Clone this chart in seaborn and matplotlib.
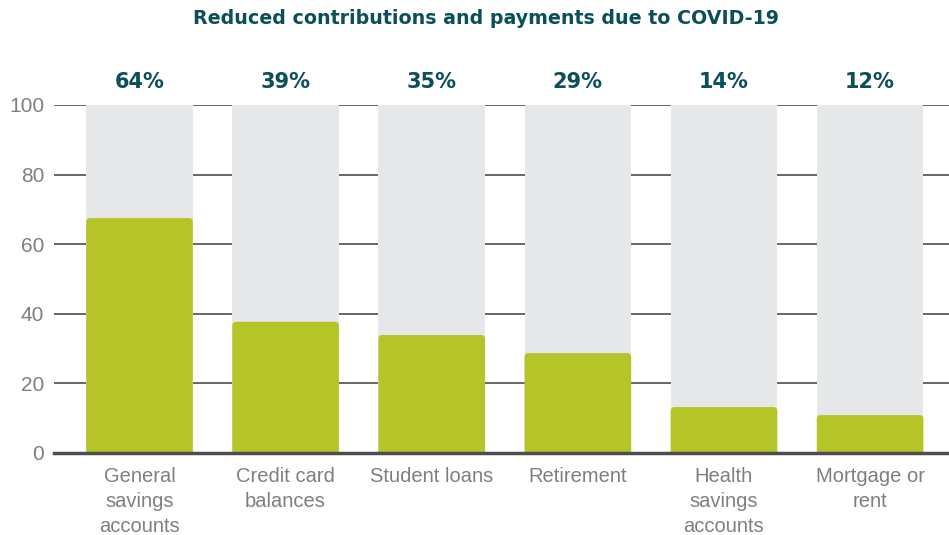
import matplotlib
matplotlib.use("Agg")
import matplotlib.pyplot as plt
from matplotlib.patches import FancyBboxPatch
import seaborn as sns
import pandas as pd

categories = ["General\nsavings\naccounts", "Credit card\nbalances", "Student loans",
              "Retirement", "Health\nsavings\naccounts", "Mortgage or\nrent"]
bar_values = [67.5, 37.7, 33.9, 28.7, 13.2, 10.9]
label_values = ["64%", "39%", "35%", "29%", "14%", "12%"]
background_values = [100, 100, 100, 100, 100, 100]
yticks = [0, 20, 40, 60, 80, 100]

GREEN = "#b5c527"
GREY = "#e6e7e8"
TEAL = "#0b4f59"
TICK = "#7d7f82"
GRID = "#4d4d4f"

sns.set_style("white")
plt.rcParams["font.family"] = ["Liberation Sans", "DejaVu Sans"]

df = pd.DataFrame({"cat": categories, "val": bar_values, "bg": background_values})

fig = plt.figure(figsize=(9.49, 5.35), dpi=100)
ax = fig.add_axes([54 / 949, 1 - 453 / 535, 1 - 54 / 949, (453 - 105) / 535])

sns.barplot(data=df, x="cat", y="bg", color=GREY, width=0.73, ax=ax,
            linewidth=0, saturation=1)
sns.barplot(data=df, x="cat", y="val", color=GREEN, width=0.73, ax=ax,
            linewidth=0, saturation=1)

ax.set_ylim(0, 100)
ax.set_xlim(-0.585, 5.54)

# rounded tops for the green bars, built from seaborn's own bar geometry
ax_w_px = ax.get_position().width * fig.get_figwidth() * fig.dpi
ax_h_px = ax.get_position().height * fig.get_figheight() * fig.dpi
px_x = (ax.get_xlim()[1] - ax.get_xlim()[0]) / ax_w_px
px_y = (ax.get_ylim()[1] - ax.get_ylim()[0]) / ax_h_px
radius_px = 4.0
r_x = radius_px * px_x
r_y = radius_px * px_y
for cont_i, cont in enumerate(ax.containers):
    for p in cont:
        p.set_zorder(5 + cont_i)
        if cont_i == 1:
            p.set_visible(False)
            fb = FancyBboxPatch((p.get_x(), -r_y), p.get_width(), p.get_height() + r_y,
                                boxstyle=f"round,pad=0,rounding_size={r_x}",
                                mutation_aspect=r_y / r_x,
                                facecolor=GREEN, edgecolor="none", zorder=6)
            ax.add_patch(fb)

ax.set_yticks(yticks)
ax.set_yticklabels([str(t) for t in yticks], color=TICK, fontsize=15)
ax.tick_params(axis="y", length=0, pad=7)
ax.tick_params(axis="x", length=0, pad=10)
for lab in ax.get_xticklabels():
    lab.set_color(TICK)
    lab.set_fontsize(14.5)
    lab.set_linespacing(1.4)
    lab.set_va("top")
ax.set_xlabel("")
ax.set_ylabel("")

ax.grid(False)
ax.hlines(yticks[1:], -0.585, 5.54, colors=GRID, linewidth=1.2, zorder=0.5)
for s in ["top", "right", "left"]:
    ax.spines[s].set_visible(False)
ax.spines["bottom"].set_color(GRID)
ax.spines["bottom"].set_linewidth(2.5)
ax.spines["bottom"].set_zorder(20)

for i, lbl in enumerate(label_values):
    ax.text(i, 106.7, lbl, ha="center", va="center", color=TEAL,
            fontsize=15, fontweight="bold", family=["DejaVu Sans"], clip_on=False)

fig.text(486 / 949, 1 - 18.5 / 535, "Reduced contributions and payments due to COVID-19",
         ha="center", va="center", color=TEAL, fontsize=13.7, fontweight="bold",
         family=["DejaVu Sans"])

fig.savefig("out.png", dpi=100)
